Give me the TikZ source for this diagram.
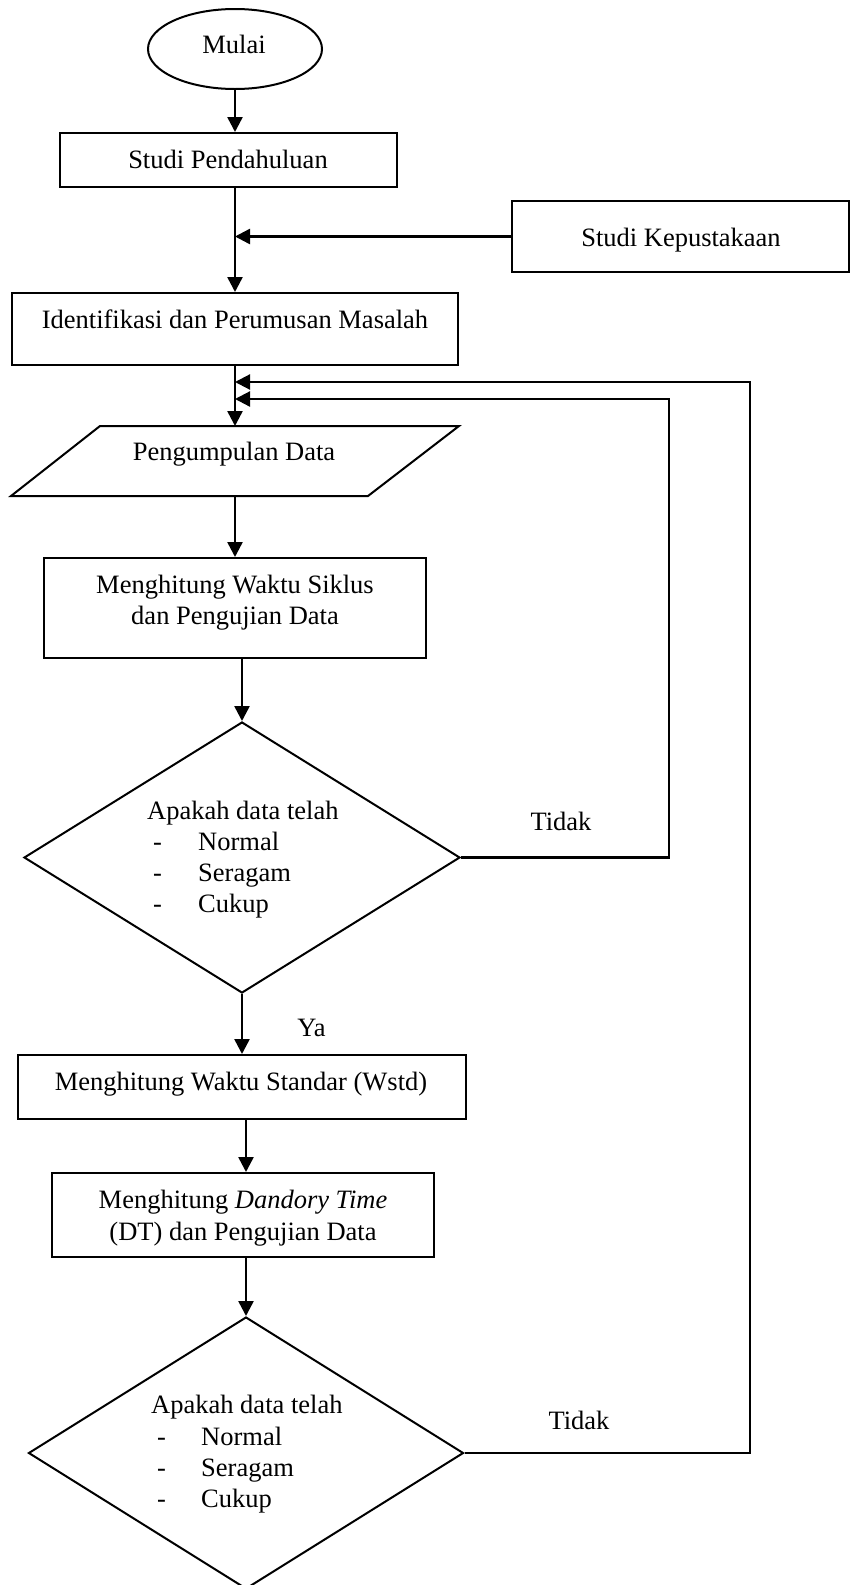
\documentclass[tikz,border=0pt]{standalone}
\usepackage{fontspec}
\setmainfont{Liberation Serif}
\usetikzlibrary{shapes.geometric,arrows.meta}
\begin{document}
\begin{tikzpicture}[x=1pt,y=-1pt,
  box/.style={draw,line width=2pt,inner sep=0pt,rectangle},
  ovalbox/.style={draw,line width=2pt,inner sep=0pt,ellipse},
  decbox/.style={draw,line width=2pt,inner sep=0pt,diamond},
  lbl/.style={font=\fontsize{26.5}{31}\selectfont,inner sep=0pt},
  flow/.style={line width=2.5pt,-{Triangle[length=15pt,width=15pt]}},
  loopflow/.style={line width=2.2pt,-{Triangle[length=15pt,width=15pt]}},
]
\useasboundingbox (0,0) rectangle (855,1585);

% shapes
\node[ovalbox,minimum width=174pt,minimum height=80pt] (start) at (235,49) {};
\node[box,minimum width=337pt,minimum height=54pt] (b1) at (228.5,160) {};
\node[box,minimum width=337pt,minimum height=71pt] (kep) at (680.5,236.5) {};
\node[box,minimum width=446pt,minimum height=72pt] (iden) at (235,329) {};
\coordinate (ptop) at (235,426);
\coordinate (pbot) at (235,496);
\draw[line width=2pt,line join=miter] (100,426) -- (459,426) -- (368,496) -- (11,496) -- cycle;
\node[box,minimum width=382pt,minimum height=100pt] (m1) at (235,608) {};
\node[decbox,minimum width=436pt,minimum height=271pt] (d1) at (242,857.5) {};
\node[box,minimum width=448pt,minimum height=64pt] (wstd) at (242,1087) {};
\node[box,minimum width=382pt,minimum height=84pt] (dt) at (243,1215) {};
\node[decbox,minimum width=435pt,minimum height=272pt] (d2) at (246,1453) {};

% texts
\node[lbl,anchor=base] (tMulai) at (234,53) {Mulai};
\node[lbl,anchor=base] (tb1) at (228,168) {Studi Pendahuluan};
\node[lbl,anchor=base] (tkep) at (681,246) {Studi Kepustakaan};
\node[lbl,anchor=base] (tiden) at (235,328) {Identifikasi dan Perumusan Masalah};
\node[lbl,anchor=base] (para) at (234,460) {Pengumpulan Data};
\node[lbl,anchor=base] (tm1a) at (235,593) {Menghitung Waktu Siklus};
\node[lbl,anchor=base] (tm1b) at (235,624) {dan Pengujian Data};

\node[lbl,anchor=base west] (q1) at (147,819) {Apakah data telah};
\node[lbl,anchor=base west] (q1d1) at (153,850) {-};
\node[lbl,anchor=base west] (q1d2) at (153,881) {-};
\node[lbl,anchor=base west] (q1d3) at (153,912) {-};
\node[lbl,anchor=base west] (q1a) at (198,850) {Normal};
\node[lbl,anchor=base west] (q1b) at (198,881) {Seragam};
\node[lbl,anchor=base west] (q1c) at (198,912) {Cukup};

\node[lbl,anchor=base] (twstd) at (241,1090) {Menghitung Waktu Standar (Wstd)};
\node[lbl,anchor=base] (tdta) at (243,1208) {Menghitung \textit{Dandory Time}};
\node[lbl,anchor=base] (tdtb) at (243,1240) {(DT) dan Pengujian Data};

\node[lbl,anchor=base west] (q2) at (151,1413) {Apakah data telah};
\node[lbl,anchor=base west] (q2d1) at (157,1445) {-};
\node[lbl,anchor=base west] (q2d2) at (157,1476) {-};
\node[lbl,anchor=base west] (q2d3) at (157,1507) {-};
\node[lbl,anchor=base west] (q2a) at (201,1445) {Normal};
\node[lbl,anchor=base west] (q2b) at (201,1476) {Seragam};
\node[lbl,anchor=base west] (q2c) at (201,1507) {Cukup};

\node[lbl,anchor=base] (ya) at (311.5,1036) {Ya};
\node[lbl,anchor=base] (tidak1) at (561,830) {Tidak};
\node[lbl,anchor=base] (tidak2) at (579,1429) {Tidak};

% connectors
\coordinate (j1) at (235,399);
\coordinate (j2) at (235,382);
\coordinate (r1) at (669,0);
\coordinate (r2) at (750,0);

\draw[flow] (start.south) -- (start.south |- b1.north);
\draw[flow] (b1.south -| iden.north) -- (iden.north);
\draw[flow] (kep.west) -- (kep.west -| iden.north);
\draw[flow] (iden.south) -- (ptop);
\draw[flow] (pbot) -- (pbot |- m1.north);
\draw[flow] (m1.south -| d1.north) -- (d1.north);
\draw[flow] (d1.south) -- (d1.south |- wstd.north);
\draw[flow] (wstd.south -| d2.north) -- (d2.north |- dt.north);
\draw[flow] (dt.south -| d2.north) -- (d2.north);

\draw[loopflow] (d1.east) -| (r1 |- j1) -- (j1);
\draw[loopflow] (d2.east) -| (r2 |- j2) -- (j2);
\end{tikzpicture}
\end{document}
